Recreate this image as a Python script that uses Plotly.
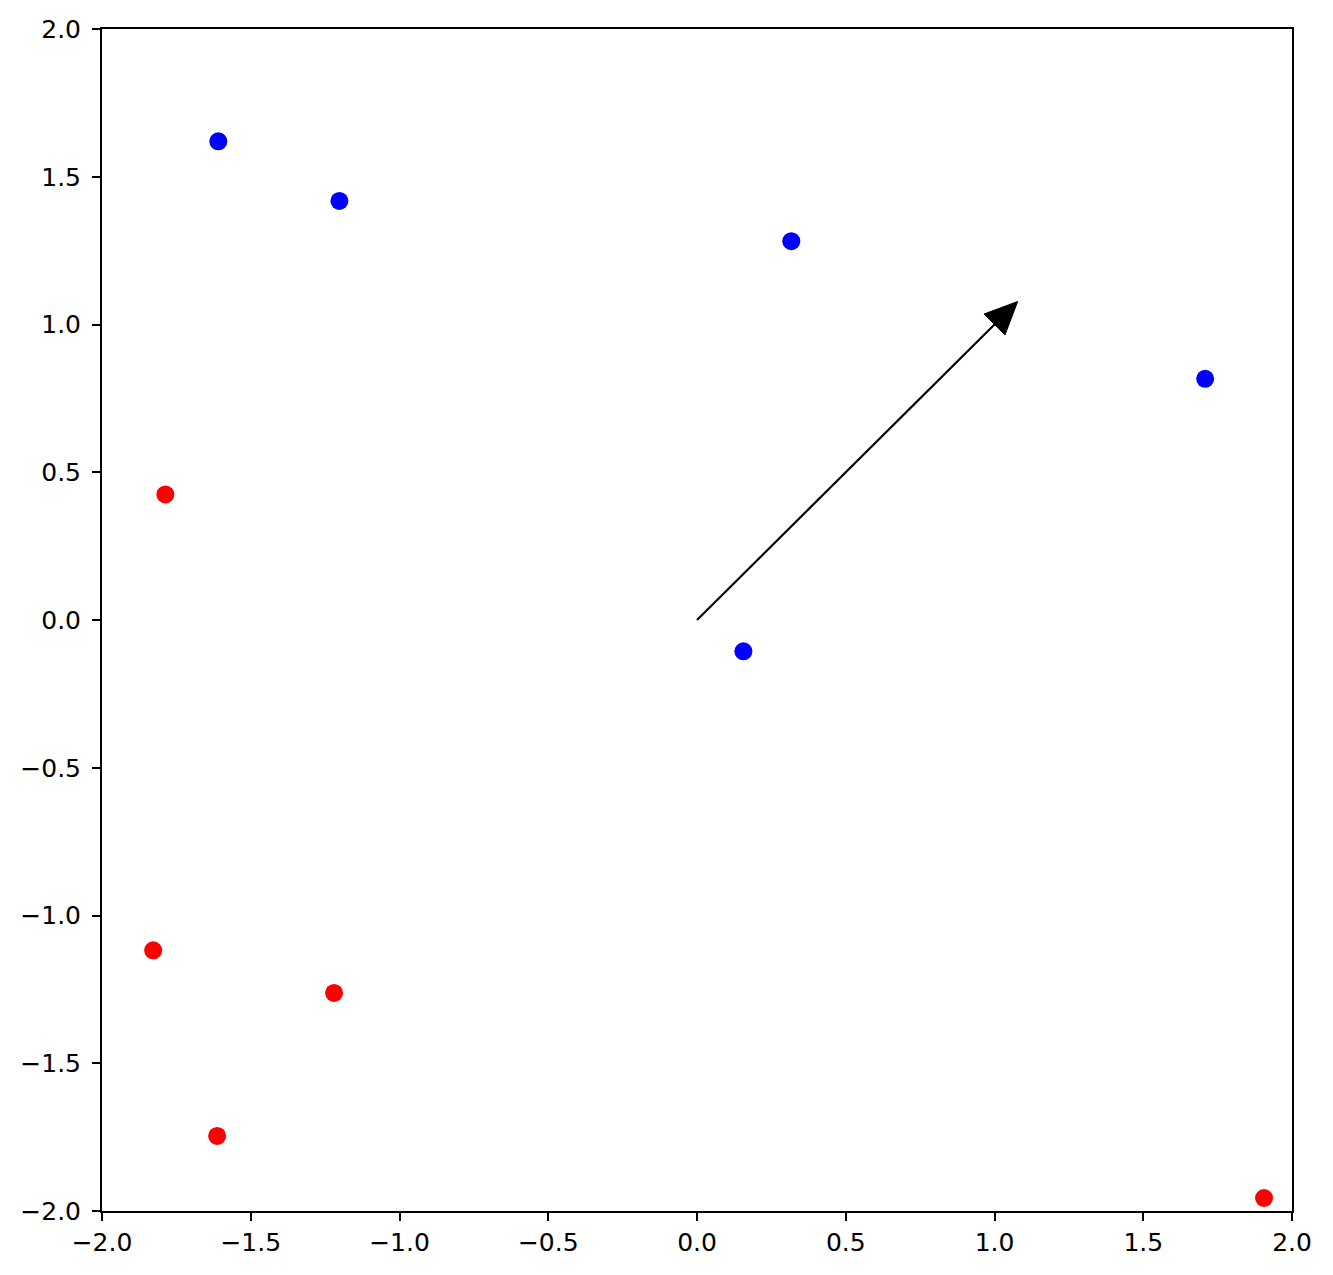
import plotly.graph_objects as go
import numpy as np

# Data
blue_x = [-1.609, -1.202, 0.317, 1.708, 0.156]
blue_y = [1.620, 1.418, 1.282, 0.816, -0.106]
red_x = [-1.787, -1.828, -1.220, -1.613, 1.906]
red_y = [0.425, -1.118, -1.262, -1.746, -1.956]

arrow_start = [0.0, 0.0]
arrow_delta = [1.0, 1.0]
head_width = 0.1
head_length = 0.11

tick_vals = [-2.0, -1.5, -1.0, -0.5, 0.0, 0.5, 1.0, 1.5, 2.0]

# Arrow geometry derived from data
x0, y0 = arrow_start
dx, dy = arrow_delta
L = np.hypot(dx, dy)
ux, uy = dx / L, dy / L
px, py = -uy, ux
bx, by = x0 + dx, y0 + dy
tip = (bx + ux * head_length, by + uy * head_length)
c1 = (bx + px * head_width / 2, by + py * head_width / 2)
c2 = (bx - px * head_width / 2, by - py * head_width / 2)

fig = go.Figure()
fig.add_trace(go.Scatter(x=[x0, bx], y=[y0, by], mode="lines",
                         line=dict(color="black", width=2.2), showlegend=False,
                         hoverinfo="skip"))
fig.add_trace(go.Scatter(x=[c1[0], tip[0], c2[0], c1[0]],
                         y=[c1[1], tip[1], c2[1], c1[1]],
                         mode="lines", fill="toself", fillcolor="black",
                         line=dict(color="black", width=1), showlegend=False,
                         hoverinfo="skip"))
fig.add_trace(go.Scatter(x=blue_x, y=blue_y, mode="markers",
                         marker=dict(color="#0000ff", size=18, line=dict(width=0)),
                         showlegend=False))
fig.add_trace(go.Scatter(x=red_x, y=red_y, mode="markers",
                         marker=dict(color="#ff0000", size=18, line=dict(width=0)),
                         showlegend=False))

axis_common = dict(
    range=[-2, 2], tickvals=tick_vals, tickformat=".1f",
    showgrid=False, zeroline=False,
    showline=True, linecolor="black", linewidth=2, mirror=True,
    ticks="outside", ticklen=8, tickwidth=2, tickcolor="black",
    tickfont=dict(family="DejaVu Sans", size=25, color="black"),
)

fig.update_layout(
    width=1333, height=1275,
    margin=dict(l=102, r=41, t=29, b=64),
    plot_bgcolor="white", paper_bgcolor="white",
    xaxis=dict(**axis_common, ticklabelstandoff=0),
    yaxis=dict(**axis_common, ticklabelstandoff=6),
)

fig.write_html(
    "out.html",
    config={"displayModeBar": False},
    post_script="document.body.style.margin='0';document.body.style.overflow='hidden';",
)
